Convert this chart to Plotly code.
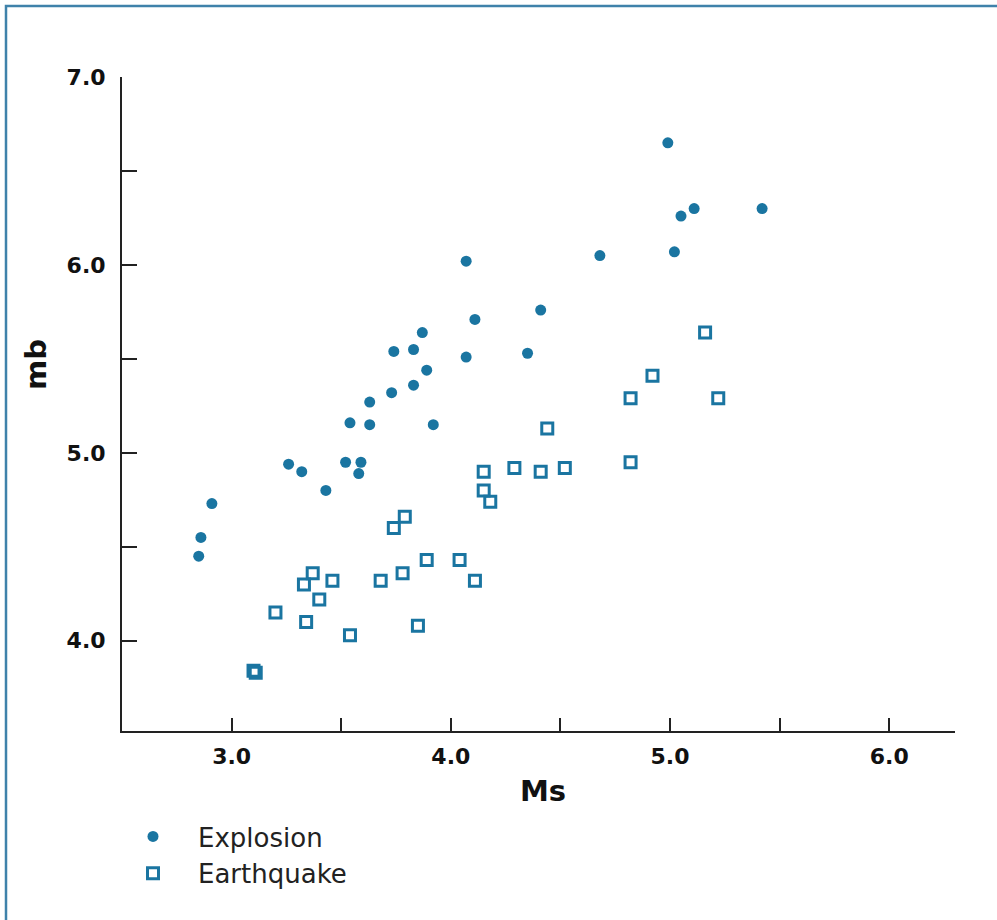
import plotly.graph_objects as go

# Explosion events (Ms, mb)
explosion_ms = [2.85, 2.86, 2.91, 3.26, 3.32, 3.43, 3.52, 3.59, 3.58, 3.54,
                3.63, 3.63, 3.73, 3.74, 3.83, 3.83, 3.89, 3.87, 3.92, 4.07,
                4.07, 4.11, 4.35, 4.41, 4.68, 4.99, 5.02, 5.05, 5.11, 5.42]
explosion_mb = [4.45, 4.55, 4.73, 4.94, 4.90, 4.80, 4.95, 4.95, 4.89, 5.16,
                5.15, 5.27, 5.32, 5.54, 5.55, 5.36, 5.44, 5.64, 5.15, 6.02,
                5.51, 5.71, 5.53, 5.76, 6.05, 6.65, 6.07, 6.26, 6.30, 6.30]

# Earthquake events (Ms, mb)
quake_ms = [4.15, 4.15, 4.18, 3.79, 3.74, 3.89, 4.04, 3.78, 3.68, 4.11,
            3.37, 3.33, 3.46, 3.40, 3.20, 3.34, 3.54, 3.85, 3.10, 3.11,
            5.16, 4.92, 4.82, 5.22, 4.44, 4.29, 4.41, 4.52, 4.82]
quake_mb = [4.90, 4.80, 4.74, 4.66, 4.60, 4.43, 4.43, 4.36, 4.32, 4.32,
            4.36, 4.30, 4.32, 4.22, 4.15, 4.10, 4.03, 4.08, 3.84, 3.83,
            5.64, 5.41, 5.29, 5.29, 5.13, 4.92, 4.90, 4.92, 4.95]

x_tickvals = [3.0, 3.5, 4.0, 4.5, 5.0, 5.5, 6.0]
x_ticktext = ["3.0", "", "4.0", "", "5.0", "", "6.0"]
y_tickvals = [4.0, 4.5, 5.0, 5.5, 6.0, 6.5, 7.0]
y_ticktext = ["4.0", "", "5.0", "", "6.0", "", "7.0"]

COLOR = "#1a75a1"
FRAME = "#3f82aa"
FONT = "DejaVu Sans"

W, H = 997, 920
L, R, T, B = 122, 42, 77, 189
PW, PH = W - L - R, H - T - B


def px(xp):
    return (xp - L) / PW


def py(yp):
    return (H - B - yp) / PH


fig = go.Figure()
fig.add_trace(go.Scatter(
    x=explosion_ms, y=explosion_mb, mode="markers", name="Explosion",
    marker=dict(symbol="circle", size=11, color=COLOR, line=dict(width=0)),
))
fig.add_trace(go.Scatter(
    x=quake_ms, y=quake_mb, mode="markers", name="Earthquake",
    marker=dict(symbol="square-open", size=11, color=COLOR, line=dict(width=3, color=COLOR)),
))

fig.update_layout(
    width=W, height=H,
    margin=dict(l=L, r=R, t=T, b=B, autoexpand=False),
    paper_bgcolor="white", plot_bgcolor="white",
    font=dict(family=FONT, color="#111"),
    showlegend=True,
    legend=dict(
        x=px(108), y=py(813), xanchor="left", yanchor="top",
        font=dict(family=FONT, size=26, color="#222"),
        itemwidth=80, tracegroupgap=0, bgcolor="rgba(0,0,0,0)",
    ),
    xaxis=dict(
        range=[2.5, 6.3], showgrid=False, zeroline=False,
        showline=True, linecolor="#222", linewidth=2,
        ticks="inside", ticklen=13, tickwidth=2, tickcolor="#222",
        tickvals=x_tickvals, ticktext=x_ticktext,
        tickfont=dict(family=FONT, size=22, color="#111", weight="bold"),
        ticklabelstandoff=5,
    ),
    yaxis=dict(
        range=[3.52, 7.0], showgrid=False, zeroline=False,
        showline=True, linecolor="#222", linewidth=2,
        ticks="inside", ticklen=15, tickwidth=2, tickcolor="#222",
        tickvals=y_tickvals, ticktext=y_ticktext,
        tickfont=dict(family=FONT, size=22, color="#111", weight="bold"),
        ticklabelstandoff=10,
    ),
    annotations=[
        dict(text="<b>Ms</b>", x=px(543), y=py(791), xref="paper", yref="paper",
             showarrow=False, font=dict(family=FONT, size=29, color="#111"),
             xanchor="center", yanchor="middle"),
        dict(text="<b>mb</b>", x=px(36), y=py(365), xref="paper", yref="paper",
             showarrow=False, textangle=-90, font=dict(family=FONT, size=29, color="#111"),
             xanchor="center", yanchor="middle"),
    ],
    shapes=[
        dict(type="rect", xref="paper", yref="paper",
             x0=px(6), x1=px(1012), y0=py(935), y1=py(6),
             line=dict(color=FRAME, width=2.5), fillcolor="rgba(0,0,0,0)", layer="above"),
    ],
)

fig.write_html(
    "out.html",
    config={"displayModeBar": False},
    post_script="document.body.style.margin='0px';document.body.style.overflow='hidden';",
)
